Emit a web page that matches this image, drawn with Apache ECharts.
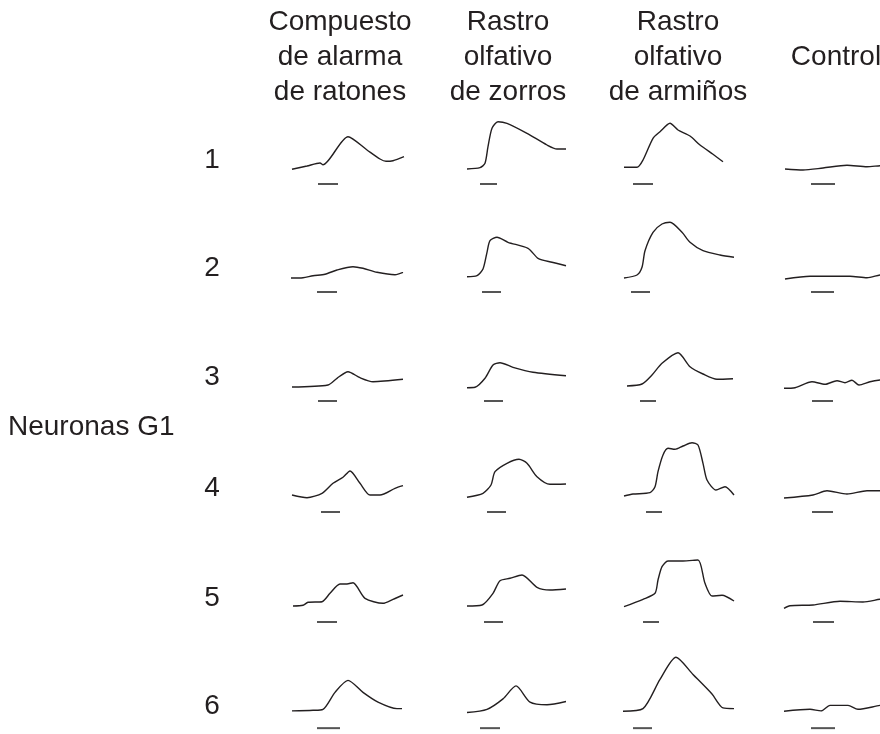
<!DOCTYPE html>
<html><head><meta charset="utf-8">
<script src="https://cdn.jsdelivr.net/npm/echarts@6.0.0/dist/echarts.min.js"></script>
<style>html,body{margin:0;padding:0;background:#fff}#c{width:880px;height:734px}</style>
</head><body><div id="c"></div>
<script>
// ---- labels ----
const columnTitles = [["Compuesto", "de alarma", "de ratones"], ["Rastro", "olfativo", "de zorros"], ["Rastro", "olfativo", "de armiños"], ["Control"]];
const rowLabels = ["1", "2", "3", "4", "5", "6"];
const groupLabel = "Neuronas G1";

// ---- traces: [time (s), response (a.u.)] ----
const r1_mouse   = [[0.1,0.7],[1.6,4],[2.9,7],[3.2,5.3],[5.7,33.3],[7.6,20],[8.9,11],[9.5,8.7],[10.2,9.3],[11.3,13.3]];
const r1_fox     = [[0,1],[1.3,2.3],[1.8,6.7],[2.1,23.3],[2.5,41.7],[3.1,48.3],[4.0,46.7],[6.0,36.7],[8.0,25],[9.0,21],[9.9,21]];
const r1_stoat   = [[0.1,2.7],[1.4,2.7],[2.0,10],[3.0,31.7],[3.7,38.3],[4.7,46.7],[5.5,40],[6.7,34],[7.7,25],[9.0,15.7],[10.0,8.3]];
const r1_control = [[0.1,1],[1.9,0],[3.9,2],[6.3,4.7],[8.3,3.3],[9.6,4.3],[10.5,4.5]];

const r2_mouse   = [[0,0],[1.2,0.3],[2.2,2.3],[3.4,3.7],[4.6,8],[6.2,11.3],[7.2,9.7],[8.6,5.7],[10.4,3.3],[11.2,5.7]];
const r2_fox     = [[0,1.3],[1.0,2.3],[1.6,9],[2.0,25.7],[2.3,37.3],[3.0,40.7],[4.1,35.7],[6.1,29.7],[7.1,19.7],[8.5,15.7],[9.9,12.3]];
const r2_stoat   = [[0.1,0],[1.4,3],[1.9,10.7],[2.2,27.3],[3.0,45.7],[3.9,54],[4.7,55.7],[5.9,45.7],[6.7,35.7],[8.0,27.3],[9.7,23],[11.1,20.7]];
const r2_control = [[0.1,-1],[2.6,1.7],[6.6,1.7],[8.3,0.3],[9.6,3],[10.5,3.5]];

const r3_mouse   = [[0.1,0],[3.7,2],[4.6,8.7],[5.7,15.3],[6.9,9.3],[8.2,5.3],[11.2,7.7]];
const r3_fox     = [[0,-0.7],[0.8,-0.3],[1.8,8.7],[2.6,22],[3.3,24.3],[4.6,19.7],[6.6,14.7],[9.9,11.3]];
const r3_stoat   = [[0.4,1],[1.9,3],[2.9,12],[3.9,23.7],[5.5,34.3],[6.7,20.3],[8.0,13],[9.4,7.7],[11.0,8.3]];
const r3_control = [[0,-1.3],[1.1,-0.7],[2.8,5.3],[4.1,2.7],[5.3,6.3],[6.1,4.3],[6.8,6.7],[7.5,2],[8.6,5.3],[9.6,7],[10.5,7.5]];

const r4_mouse   = [[0.1,3],[1.6,0.3],[3.1,4.7],[4.2,14.7],[5.2,20.7],[5.9,27],[6.9,14.7],[7.9,3],[8.9,3],[10.4,9.7],[11.2,12.3]];
const r4_fox     = [[0,0.7],[1.6,4.7],[2.4,13],[2.8,26.3],[4.0,34.7],[5.2,38.7],[6.0,34.7],[7.0,21.3],[8.3,13.7],[9.9,14]];
const r4_stoat   = [[0.1,2],[1.0,4],[2.7,5.3],[3.2,11.3],[3.5,26.3],[4.0,43],[4.5,49.7],[5.2,48.7],[6.0,52],[6.9,55.3],[7.5,53],[8.0,34.7],[8.4,18],[9.3,8],[10.2,11.3],[11.1,3]];
const r4_control = [[0,0],[2.9,3],[4.3,7.3],[6.3,4],[8.3,7.3],[9.6,7.3],[10.5,7.3]];

const r5_mouse   = [[0.2,2],[1.2,2.7],[1.7,5.7],[3.1,6.3],[3.9,14.7],[4.9,24],[5.6,24],[6.2,25.3],[7.4,9.7],[9.2,4.7],[10.2,8.7],[11.2,13]];
const r5_fox     = [[0,2],[1.5,3],[2.6,14.7],[3.3,27.3],[4.3,29.7],[5.5,33],[7.0,20.7],[8.3,18],[9.9,19]];
const r5_stoat   = [[0.1,1.3],[2.0,8.7],[3.2,14.7],[3.5,28],[3.9,41.3],[4.5,47],[6.0,47],[7.5,48],[8.2,24.7],[8.9,12],[9.9,12.7],[11.1,7]];
const r5_control = [[0,-0.3],[0.6,2.3],[2.9,3],[5.6,6.7],[7.9,6],[9.6,8.7],[10.5,9.5]];

const r6_mouse   = [[0.1,3.7],[2.2,4.3],[3.2,5.3],[4.4,22.7],[5.7,35],[7.2,22.7],[8.7,12.7],[10.6,6],[11.1,6]];
const r6_fox     = [[0,2],[2.0,5.3],[3.6,16],[4.9,29.3],[6.3,12.7],[8.0,10],[9.9,13.3]];
const r6_stoat   = [[0,3.3],[2.0,6],[3.7,36],[5.3,58.7],[7.0,41],[8.9,21],[10.0,6.7],[11.1,6]];
const r6_control = [[0,3.3],[2.6,5.3],[3.7,3.7],[4.6,9.3],[6.4,9.3],[7.4,5.3],[9.6,9.3],[10.5,10]];

// ---- stimulus periods [on, off] (s) ----
const stim_r1 = [[2.7,4.7],[1.3,3.0],[1.0,3.0],[2.7,5.1]];
const stim_r2 = [[2.6,4.6],[1.5,3.4],[0.8,2.7],[2.7,5.0]];
const stim_r3 = [[2.7,4.6],[1.7,3.6],[1.7,3.3],[2.8,4.9]];
const stim_r4 = [[3.0,4.9],[2.0,3.9],[2.3,3.9],[2.8,4.9]];
const stim_r5 = [[2.6,4.6],[1.7,3.6],[2.0,3.6],[2.9,5.0]];
const stim_r6 = [[2.6,4.9],[1.3,3.3],[1.0,2.9],[2.7,5.1]];

const traces = [
  [r1_mouse, r1_fox, r1_stoat, r1_control],
  [r2_mouse, r2_fox, r2_stoat, r2_control],
  [r3_mouse, r3_fox, r3_stoat, r3_control],
  [r4_mouse, r4_fox, r4_stoat, r4_control],
  [r5_mouse, r5_fox, r5_stoat, r5_control],
  [r6_mouse, r6_fox, r6_stoat, r6_control]
];
const stims = [stim_r1, stim_r2, stim_r3, stim_r4, stim_r5, stim_r6];

// ---- layout ----
const W = 880;
const colLeft = [291, 467, 623, 784];
const rowBase = [170, 278, 387, 498, 608, 716];
const yMin = -20, yMax = 62, stimLevel = -14;
const pxPerSec = 10, gridSecs = 13;
const FONT = 'Liberation Sans, Arial, sans-serif';
const TXT = '#231f20';

const grid = [], xAxis = [], yAxis = [], series = [];
let k = 0;
for (let r = 0; r < rowLabels.length; r++) {
  for (let c = 0; c < columnTitles.length; c++) {
    const w = Math.min(pxPerSec * gridSecs, W - colLeft[c]);
    grid.push({left: colLeft[c], top: rowBase[r] - yMax, width: w, height: yMax - yMin});
    xAxis.push({type: 'value', gridIndex: k, min: 0, max: w / pxPerSec, show: false});
    yAxis.push({type: 'value', gridIndex: k, min: yMin, max: yMax, show: false});
    series.push({type: 'line', xAxisIndex: k, yAxisIndex: k, data: traces[r][c], smooth: 0.25,
      symbol: 'none', clip: c === 3, silent: true, lineStyle: {color: TXT, width: 1.4}});
    const s = stims[r][c];
    series.push({type: 'line', xAxisIndex: k, yAxisIndex: k, data: [[s[0], stimLevel], [s[1], stimLevel]],
      symbol: 'none', clip: false, silent: true, lineStyle: {color: '#555', width: 2}});
    k++;
  }
}

const titleCenters = [340, 508, 678, 836];
const lineY = [22, 57, 92];
const graphic = [];
columnTitles.forEach((lines, i) => {
  lines.forEach((t, j) => {
    const y = lines.length === 3 ? lineY[j] : lineY[1];
    graphic.push({type: 'text', x: titleCenters[i], y: y, style: {
      text: t, fill: TXT, font: '28px ' + FONT, textAlign: 'center', textVerticalAlign: 'middle'}});
  });
});
rowLabels.forEach((t, i) => {
  graphic.push({type: 'text', x: 212, y: rowBase[i] - 10, style: {text: t, fill: TXT, font: '28px ' + FONT,
    textAlign: 'center', textVerticalAlign: 'middle'}});
});
graphic.push({type: 'text', x: 8, y: 427, style: {text: groupLabel, fill: TXT, font: '28px ' + FONT,
  textAlign: 'left', textVerticalAlign: 'middle'}});

const chart = echarts.init(document.getElementById('c'));
chart.setOption({animation: false, backgroundColor: '#fff', grid, xAxis, yAxis, series, graphic});
</script></body></html>
